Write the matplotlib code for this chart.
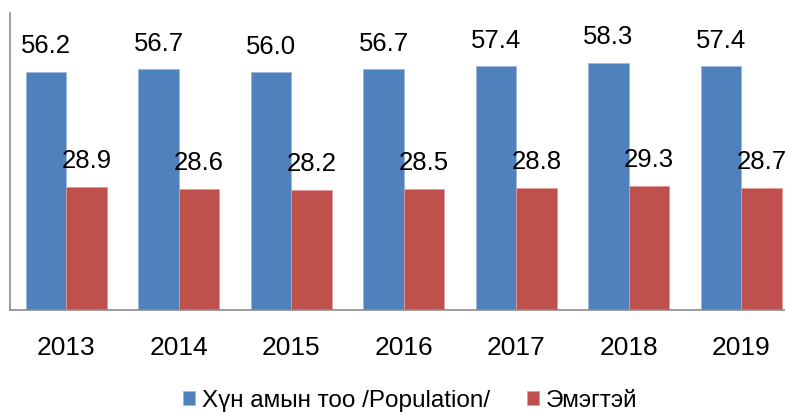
import numpy as np
import matplotlib
matplotlib.use('Agg')
import matplotlib.pyplot as plt

plt.rcParams['font.family'] = ['Liberation Sans', 'DejaVu Sans']

years = ['2013', '2014', '2015', '2016', '2017', '2018', '2019']
population = [56.2, 56.7, 56.0, 56.7, 57.4, 58.3, 57.4]
female = [28.9, 28.6, 28.2, 28.5, 28.8, 29.3, 28.7]
series_names = ['Хүн амын тоо /Population/', 'Эмэгтэй']

BLUE = '#4F81BD'
RED = '#C0504D'

fig = plt.figure(figsize=(7.85, 4.13), dpi=100)
ax = fig.add_axes([10 / 785, 103 / 413, 787.5 / 785, 297 / 413])

x = np.arange(len(years))
w = 0.36
b1 = ax.bar(x - w / 2, population, w, color=BLUE, edgecolor='#9db7d8', linewidth=0.6, label=series_names[0])
b2 = ax.bar(x + w / 2, female, w, color=RED, edgecolor='#dc9c9a', linewidth=0.6, label=series_names[1])

for bars in (b1, b2):
    ax.bar_label(bars, labels=[f'{v:.1f}' for v in bars.datavalues], padding=10, fontsize=18.5)

ax.set_xlim(-0.5, len(years) - 0.5)
ax.set_ylim(0, 70)
ax.set_xticks(x)
ax.set_xticklabels(years, fontsize=19)
ax.tick_params(axis='x', length=0, pad=19)
ax.set_yticks([])

for side in ('top', 'right'):
    ax.spines[side].set_visible(False)
for side in ('left', 'bottom'):
    ax.spines[side].set_color('#8c8c8c')
    ax.spines[side].set_linewidth(1.2)

fig.legend(handles=[b1, b2], loc='center', bbox_to_anchor=(410 / 785, 1 - 401 / 413),
           ncol=2, frameon=False, fontsize=17.5, handlelength=0.5, handleheight=0.5,
           handletextpad=0.3, columnspacing=1.5)

fig.savefig('out.png', dpi=100)
